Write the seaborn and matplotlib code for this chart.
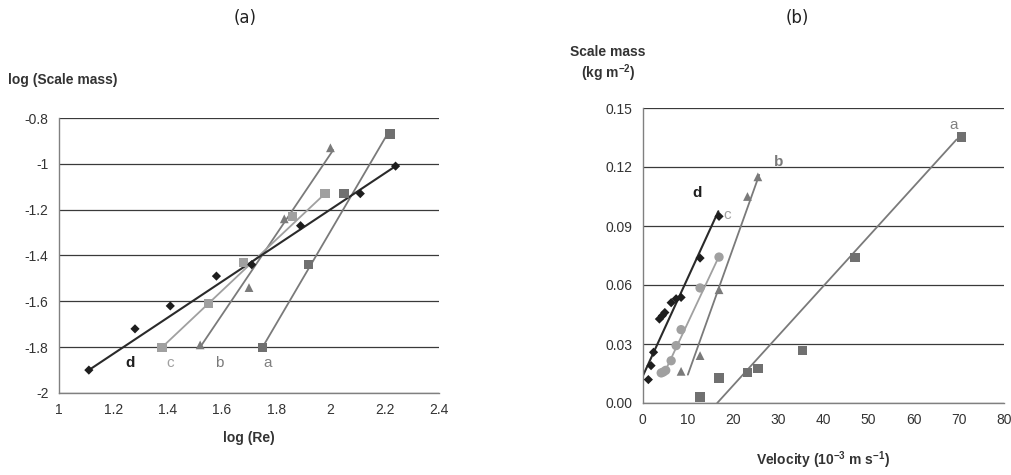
import numpy as np
import pandas as pd
import matplotlib
matplotlib.use("Agg")
import matplotlib.pyplot as plt
import seaborn as sns

# ---------- Panel (a): log(Scale mass) vs log(Re) ----------
a_logre = [1.75, 1.92, 2.05, 2.22]
a_logm = [-1.80, -1.44, -1.13, -0.87]
b_logre = [1.52, 1.70, 1.83, 2.00]
b_logm = [-1.79, -1.54, -1.24, -0.93]
c_logre = [1.38, 1.55, 1.68, 1.86, 1.98]
c_logm = [-1.80, -1.61, -1.43, -1.23, -1.13]
d_logre = [1.11, 1.28, 1.41, 1.58, 1.71, 1.89, 2.11, 2.24]
d_logm = [-1.90, -1.72, -1.62, -1.49, -1.44, -1.27, -1.13, -1.01]

# trend line end points (panel a)
a_fit_x = [1.75, 2.21]; a_fit_y = [-1.80, -0.87]
b_fit_x = [1.52, 2.01]; b_fit_y = [-1.80, -0.94]
c_fit_x = [1.38, 1.98]; c_fit_y = [-1.80, -1.13]
d_fit_x = [1.11, 2.24]; d_fit_y = [-1.90, -1.01]

# ---------- Panel (b): Scale mass vs velocity ----------
a_vel = [12.7, 16.9, 23.2, 25.5, 35.4, 47.0, 70.6]
a_mass = [0.003, 0.0127, 0.0156, 0.0176, 0.0266, 0.0741, 0.1353]
b_vel = [8.5, 12.7, 16.9, 23.2, 25.5]
b_mass = [0.0161, 0.0241, 0.0576, 0.105, 0.115]
c_vel = [4.1, 4.6, 5.1, 6.3, 7.4, 8.5, 12.7, 16.9]
c_mass = [0.0153, 0.0158, 0.0166, 0.0215, 0.0292, 0.0373, 0.0585, 0.0742]
d_vel = [1.25, 1.85, 2.4, 3.7, 4.35, 4.9, 6.3, 7.4, 8.5, 12.7, 16.9]
d_mass = [0.0119, 0.019, 0.0258, 0.0427, 0.0444, 0.046, 0.051, 0.053, 0.0537, 0.0737, 0.0949]

a2_fit_x = [16.5, 69.5]; a2_fit_y = [0.0, 0.134]
b2_fit_x = [10.0, 25.8]; b2_fit_y = [0.0144, 0.116]
c2_fit_x = [4.6, 16.9]; c2_fit_y = [0.0144, 0.0746]
d2_fit_x = [0.0, 16.75]; d2_fit_y = [0.0136, 0.0975]

labels = ["a", "b", "c", "d"]

sns.set_style("white")
plt.rcParams['font.family'] = ['Liberation Sans', 'DejaVu Sans']
plt.rcParams['mathtext.default'] = 'regular'

col = {"a": "#707070", "b": "#7a7a7a", "c": "#a0a0a0", "d": "#1e1e1e"}
lcol = {"a": "#7a7a7a", "b": "#7a7a7a", "c": "#a0a0a0", "d": "#2a2a2a"}
mk = {"a": "s", "b": "^", "c": "s", "d": "D"}
msz = {"a": 45, "b": 40, "c": 45, "d": 22}

fig = plt.figure(figsize=(10.12, 4.75), dpi=100)
ax1 = fig.add_axes([59/1012, 1-393/475, (439-59)/1012, (393-118)/475])
ax2 = fig.add_axes([642.7/1012, 1-403/475, (1004-642.7)/1012, (403-108)/475])

def style_axes(ax):
    for s in ["top", "right"]:
        ax.spines[s].set_visible(False)
    for s in ["left", "bottom"]:
        ax.spines[s].set_color("#808080")
        ax.spines[s].set_linewidth(1.0)
    ax.tick_params(axis="both", direction="out", length=4, width=1, color="#808080",
                   labelsize=10, labelcolor="#333333")
    ax.yaxis.grid(True, color="#3a3a3a", linewidth=0.9)
    ax.xaxis.grid(False)
    ax.set_axisbelow(True)

# Panel a
pa = {"a": (a_logre, a_logm, a_fit_x, a_fit_y),
      "b": (b_logre, b_logm, b_fit_x, b_fit_y),
      "c": (c_logre, c_logm, c_fit_x, c_fit_y),
      "d": (d_logre, d_logm, d_fit_x, d_fit_y)}
for k in labels:
    xs, ys, fx, fy = pa[k]
    sns.lineplot(x=fx, y=fy, ax=ax1, color=lcol[k], linewidth=1.5 if k == "d" else 1.3)
    sns.scatterplot(x=xs, y=ys, ax=ax1, marker=mk[k], s=msz[k], color=col[k],
                    edgecolor="none", zorder=3)
ax1.set_xlim(1, 2.4)
ax1.set_ylim(-2, -0.8)
ax1.set_xticks([1, 1.2, 1.4, 1.6, 1.8, 2, 2.2, 2.4])
ax1.set_xticklabels(["1", "1.2", "1.4", "1.6", "1.8", "2", "2.2", "2.4"])
ax1.set_yticks([-2, -1.8, -1.6, -1.4, -1.2, -1, -0.8])
ax1.set_yticklabels(["-2", "-1.8", "-1.6", "-1.4", "-1.2", "-1", "-0.8"])
style_axes(ax1)
ax1.set_xlabel("log (Re)", fontsize=10, fontweight="bold", color="#333333", labelpad=10)
ax1.set_ylabel("")
lab_a = {"d": (1.26, -1.87), "c": (1.41, -1.87), "b": (1.59, -1.87), "a": (1.77, -1.87)}
for k, (x, y) in lab_a.items():
    ax1.text(x, y, k, fontsize=11, ha="center", va="center",
             color=col[k] if k != "a" else "#808080",
             fontweight="bold" if k == "d" else "normal")

# Panel b
pb = {"a": (a_vel, a_mass, a2_fit_x, a2_fit_y),
      "b": (b_vel, b_mass, b2_fit_x, b2_fit_y),
      "c": (c_vel, c_mass, c2_fit_x, c2_fit_y),
      "d": (d_vel, d_mass, d2_fit_x, d2_fit_y)}
mk2 = {"a": "s", "b": "^", "c": "o", "d": "D"}
msz2 = {"a": 45, "b": 40, "c": 45, "d": 22}
for k in labels:
    xs, ys, fx, fy = pb[k]
    sns.lineplot(x=fx, y=fy, ax=ax2, color=lcol[k], linewidth=1.5 if k == "d" else 1.3)
    sns.scatterplot(x=xs, y=ys, ax=ax2, marker=mk2[k], s=msz2[k], color=col[k],
                    edgecolor="none", zorder=3)
ax2.set_xlim(0, 80)
ax2.set_ylim(0, 0.15)
ax2.set_xticks(list(range(0, 81, 10)))
ax2.set_yticks([0, 0.03, 0.06, 0.09, 0.12, 0.15])
ax2.set_yticklabels(["0.00", "0.03", "0.06", "0.09", "0.12", "0.15"])
style_axes(ax2)
ax2.set_xlabel("Velocity (10$^{-3}$ m s$^{-1}$)", fontsize=10, fontweight="bold",
               color="#333333", labelpad=16)
ax2.set_ylabel("")
lab_b = {"a": (68.8, 0.1415), "b": (30.0, 0.1224), "c": (18.7, 0.0958), "d": (12.0, 0.107)}
for k, (x, y) in lab_b.items():
    ax2.text(x, y, k, fontsize=11, ha="center", va="center",
             color=col[k] if k != "a" else "#808080",
             fontweight="bold" if k in ("d", "b") else "normal")

fig.text(245/1012, 1-18/475, "(a)", fontsize=12, ha="center", va="center",
         family="DejaVu Sans", color="#222222")
fig.text(797/1012, 1-18/475, "(b)", fontsize=12, ha="center", va="center",
         family="DejaVu Sans", color="#222222")
fig.text(8/1012, 1-80/475, "log (Scale mass)", fontsize=10, fontweight="bold",
         ha="left", va="center", color="#333333")
fig.text(608/1012, 1-52/475, "Scale mass", fontsize=10, fontweight="bold",
         ha="center", va="center", color="#333333")
fig.text(608/1012, 1-73/475, "(kg m$^{-2}$)", fontsize=10, fontweight="bold",
         ha="center", va="center", color="#333333")

fig.savefig("out.png", dpi=100, facecolor="white")
